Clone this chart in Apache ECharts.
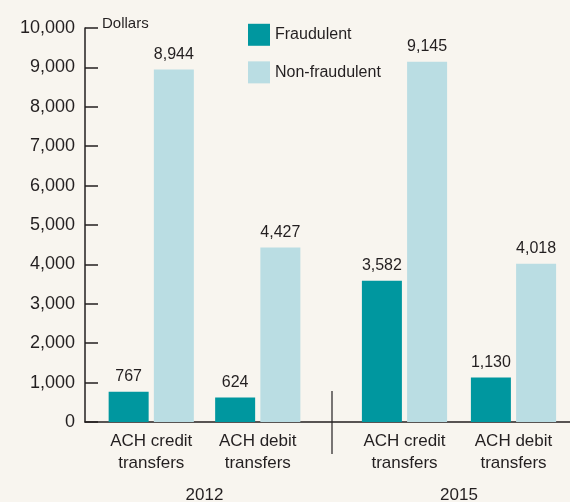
<!DOCTYPE html>
<html>
<head>
  <title>ACH fraud</title>
  <script src="https://cdn.jsdelivr.net/npm/echarts@6.0.0/dist/echarts.min.js"></script>
  <style>
    html, body { margin: 0; padding: 0; background: #f8f5ef; }
  </style>
</head>
<body>
  <div id="main" style="width: 570px; height: 502px;"></div>

  <script>
    // data
    var categories = ['ACH credit\ntransfers', 'ACH debit\ntransfers'];
    var years = ['2012', '2015'];
    var fraud2012 = [767, 624];
    var nonFraud2012 = [8944, 4427];
    var fraud2015 = [3582, 1130];
    var nonFraud2015 = [9145, 4018];
    var yTicks = [0, 10000, 1000]; // min, max, step

    var font = 'Liberation Sans, Arial, sans-serif';
    var ink = '#231f20';
    var teal = '#00979f';
    var pale = '#badde3';

    var chartDom = document.getElementById('main');
    var myChart = echarts.init(chartDom);

    function fmt(p) {
      return p.value.toLocaleString('en-US');
    }

    function barSeries(name, data, idx, color) {
      return {
        name: name,
        type: 'bar',
        xAxisIndex: idx,
        yAxisIndex: idx,
        data: data,
        barWidth: 40,
        barGap: '13%',
        itemStyle: { color: color },
        label: {
          show: true,
          position: 'top',
          distance: 1,
          fontFamily: font,
          fontSize: 16,
          color: ink,
          formatter: fmt
        }
      };
    }

    // category axis of a year grid
    function catX(i) {
      return {
        type: 'category',
        gridIndex: i,
        data: categories,
        axisLine: { show: false },
        axisTick: { show: false },
        axisLabel: {
          interval: 0,
          hideOverlap: false,
          margin: 8,
          fontFamily: font,
          fontSize: 17,
          lineHeight: 22,
          color: ink
        }
      };
    }
    // year label axis, in its own thin grid below
    function yearX(g, i) {
      return {
        type: 'category',
        gridIndex: g,
        data: [years[i]],
        axisLine: { show: false },
        axisTick: { show: false },
        axisLabel: { margin: 1, fontFamily: font, fontSize: 17, color: ink }
      };
    }
    function hiddenY(g) {
      return {
        type: 'value', gridIndex: g, min: yTicks[0], max: yTicks[1], interval: yTicks[2], show: false
      };
    }
    function g(left, width, bottom) {
      return { left: left, width: width, top: 28, bottom: bottom, outerBoundsMode: 'none', containLabel: false };
    }

    var option = {
      backgroundColor: '#f8f5ef',
      animation: false,
      legend: {
        orient: 'vertical',
        left: 243,
        top: 16,
        itemWidth: 22,
        itemHeight: 22,
        itemGap: 10,
        icon: 'rect',
        textStyle: { fontFamily: font, fontSize: 16, color: ink },
        data: ['Fraudulent', 'Non-fraudulent']
      },
      grid: [
        g(85, 485, 80),
        g(98, 213, 80),
        g(350, 218, 80),
        g(98, 213, 22),
        g(350, 218, 22)
      ],
      xAxis: [
        {
          type: 'category',
          gridIndex: 0,
          data: [''],
          axisLine: { lineStyle: { color: ink, width: 1.5 } },
          axisTick: { show: false },
          axisLabel: { show: false }
        },
        catX(1),
        catX(2),
        yearX(3, 0),
        yearX(4, 1)
      ],
      yAxis: [
        {
          type: 'value',
          gridIndex: 0,
          min: yTicks[0],
          max: yTicks[1],
          interval: yTicks[2],
          axisLine: { show: true, lineStyle: { color: ink, width: 1.5 } },
          axisTick: { show: true, inside: true, length: 13, lineStyle: { color: ink, width: 1.5 } },
          splitLine: { show: false },
          axisLabel: {
            margin: 10,
            fontFamily: font,
            fontSize: 18,
            color: ink,
            formatter: function (v) { return v.toLocaleString('en-US'); }
          },
          name: 'Dollars',
          nameLocation: 'end',
          nameGap: 4,
          nameTextStyle: {
            fontFamily: font, fontSize: 15, color: ink,
            align: 'left', verticalAlign: 'middle', padding: [0, 0, 0, 17]
          }
        },
        hiddenY(1),
        hiddenY(2),
        hiddenY(3),
        hiddenY(4)
      ],
      graphic: [
        {
          type: 'line',
          shape: { x1: 332, y1: 391, x2: 332, y2: 454 },
          style: { stroke: ink, lineWidth: 1.2 }
        }
      ],
      series: [
        barSeries('Fraudulent', fraud2012, 1, teal),
        barSeries('Non-fraudulent', nonFraud2012, 1, pale),
        barSeries('Fraudulent', fraud2015, 2, teal),
        barSeries('Non-fraudulent', nonFraud2015, 2, pale)
      ]
    };

    option && myChart.setOption(option);
  </script>
</body>
</html>
